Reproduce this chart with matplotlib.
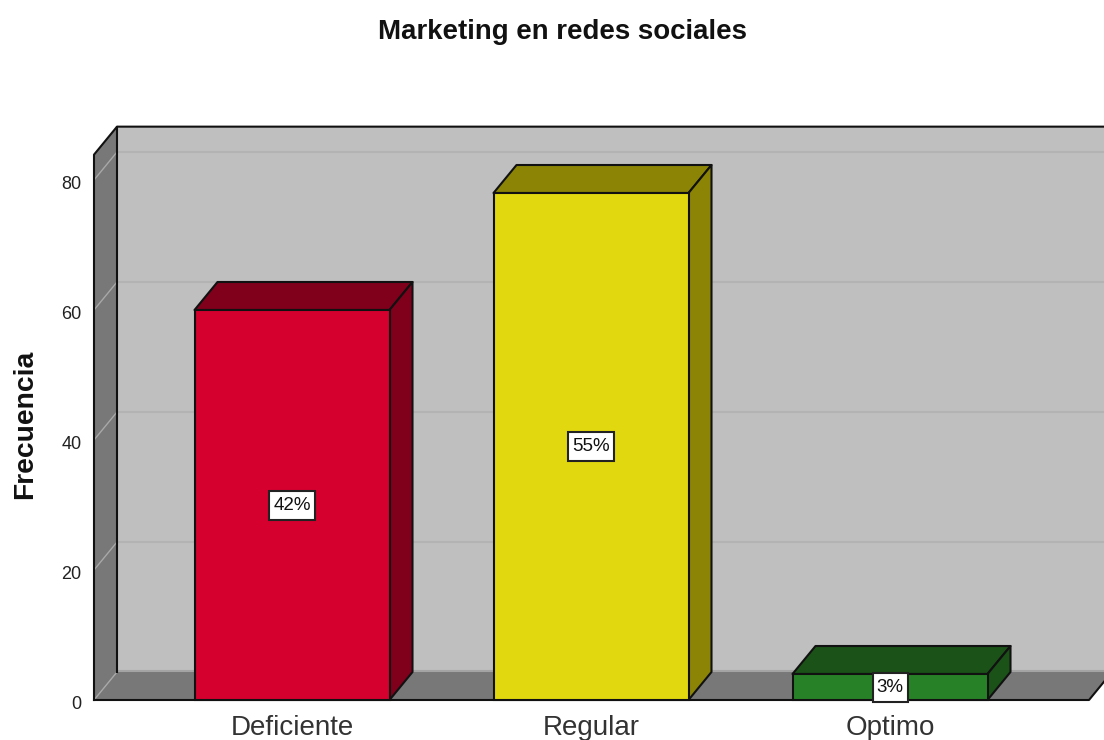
""" Bar chart with a 3D look for the marketing survey """

import matplotlib
matplotlib.use("Agg")
import matplotlib.pyplot as plt
from matplotlib.patches import Rectangle
from matplotlib.transforms import IdentityTransform, ScaledTranslation

categories = ["Deficiente", "Regular", "Optimo"]
frequencies = [60, 78, 4]
percent_labels = ["42%", "55%", "3%"]
front_colors = ["#d6002f", "#e2d80f", "#278227"]
shade_colors = ["#80001c", "#8b8405", "#1a5218"]
y_ticks = [0, 20, 40, 60, 80]

plt.rcParams["font.family"] = ["Liberation Sans", "DejaVu Sans"]

W, H = 1104, 740
fig = plt.figure(figsize=(W / 100, H / 100), dpi=100)
ax = fig.add_axes([94 / W, (H - 700) / H, (W - 94) / W, 575 / H])

# 299 px between categories, 6.5 px per count
xmin = (94 - 292) / 299
xmax = (W - 292) / 299
ymax = 575 / 6.5
ax.set_xlim(xmin, xmax)
ax.set_ylim(0, ymax)

# depth offset of the box
dx = 23 / 299
dy = 28 / 6.5
bar_w = 195 / 299
top = 83.9
right = (1089 - 292) / 299

line = "#111111"
wall = "#bfbfbf"
side = "#787878"

# back wall
ax.fill([xmin + dx, xmax, xmax, xmin + dx], [dy, dy, top + dy, top + dy], color=wall, lw=0, zorder=1)
# left wall
ax.fill([xmin, xmin + dx, xmin + dx, xmin], [0, dy, top + dy, top], color=side, lw=0, zorder=2)
# floor, it runs out past the right edge
ax.fill([xmin, right, right + dx, xmin + dx], [0, 0, dy, dy], color=side, lw=0, zorder=2)
ax.plot([xmin + dx, xmax], [dy + 0.15, dy + 0.15], color="#a4a4a4", lw=1.5, zorder=2)

for t in y_ticks:
    if t > 0:
        ax.plot([xmin + dx, xmax], [t + dy, t + dy], color="#b3b3b3", lw=1.5, zorder=2)
    ax.plot([xmin, xmin + dx], [t, t + dy], color="#a8a8a8", lw=1, zorder=3)

# box outline
ax.plot([xmin, xmin, xmin + dx, xmax], [0, top, top + dy, top + dy], color=line, lw=1.5, zorder=4, clip_on=False)
ax.plot([xmin + dx, xmin + dx], [dy, top + dy], color=line, lw=1.5, zorder=4)
ax.plot([xmin, right, right + dx], [0, 0, dy], color=line, lw=1.5, zorder=4, clip_on=False)

labels = []
for i, v in enumerate(frequencies):
    x0 = i - bar_w / 2
    x1 = i + bar_w / 2
    # top and side faces, then the front
    ax.fill([x0, x1, x1 + dx, x0 + dx], [v, v, v + dy, v + dy],
            facecolor=shade_colors[i], edgecolor=line, lw=1.5, zorder=5, joinstyle="round")
    ax.fill([x1, x1 + dx, x1 + dx, x1], [0, dy, v + dy, v],
            facecolor=shade_colors[i], edgecolor=line, lw=1.5, zorder=5, joinstyle="round")
    ax.bar(i, v, width=bar_w, color=front_colors[i], edgecolor=line, lw=1.5, zorder=6, clip_on=False)
    labels.append(ax.text(i, v / 2, percent_labels[i], ha="center", va="center",
                          fontsize=13.5, color="#111111", zorder=8))

# white boxes behind the labels, sized from the text in pixels
fig.canvas.draw()
renderer = fig.canvas.get_renderer()
for t in labels:
    bb = t.get_window_extent(renderer)
    cy = (bb.y0 + bb.y1) / 2
    ax.add_patch(Rectangle((bb.x0 - 4, cy - 14.5), bb.width + 8, 29, transform=IdentityTransform(),
                           facecolor="white", edgecolor="#222222", lw=1.5, zorder=7, clip_on=False))

ax.set_xticks(range(len(categories)))
ax.set_xticklabels(categories, fontsize=20, color="#333333")
ax.set_yticks(y_ticks)
ax.set_yticklabels(y_ticks, fontsize=13, color="#222222")
ax.tick_params(length=0)
ax.tick_params(axis="x", pad=10.5)
ax.tick_params(axis="y", pad=9)
# y tick labels sit a little under their values
shift = ScaledTranslation(0, -2 / 72, fig.dpi_scale_trans)
for lab in ax.get_yticklabels():
    lab.set_transform(lab.get_transform() + shift)
for s in ax.spines.values():
    s.set_visible(False)

ax.set_ylabel("Frecuencia", fontsize=20.3, fontweight="bold", color="#111111")
ax.yaxis.set_label_coords(-56 / (W - 94), 276 / 575)
fig.text(563 / W, 1 - 32 / H, "Marketing en redes sociales", ha="center", va="center",
         fontsize=19.9, fontweight="bold", color="#111111")

fig.savefig("out.png", dpi=100)
